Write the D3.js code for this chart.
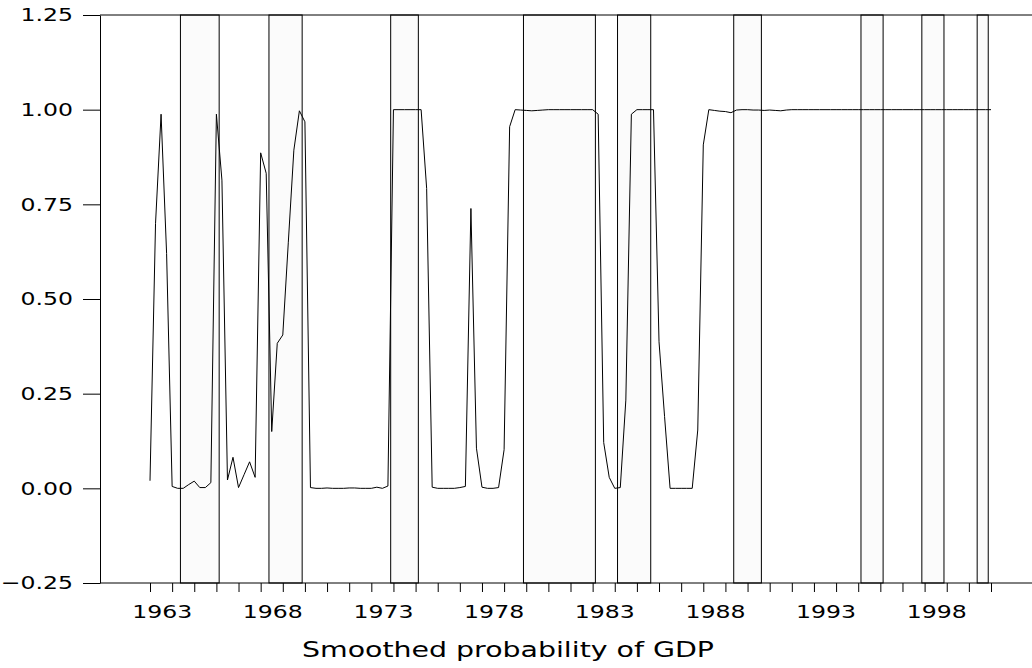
<!DOCTYPE html>
<html><head><meta charset="utf-8">
<script src="https://cdn.jsdelivr.net/npm/d3@7"></script>
<style>
body{margin:0;background:#fff}
svg{display:block}
text{font-family:"DejaVu Sans",sans-serif;fill:#000}
</style>
</head><body>
<svg id="c" width="1032" height="668"></svg>
<script>
// ---------- data ----------
const startYear = 1963; // first observation 1963Q1, quarterly
const probs = [
  0.02, 0.70, 0.988, 0.62, 0.005, 0.0, 0.0, 0.01, 0.019, 0.002,
  0.002, 0.015, 0.988, 0.814, 0.022, 0.082, 0.002, 0.036, 0.07, 0.029,
  0.886, 0.832, 0.15, 0.383, 0.405, 0.65, 0.893, 0.997, 0.968, 0.002,
  0.0, 0.0, 0.001, 0.0, 0.0, 0.0, 0.001, 0.001, 0.0, 0.0,
  0.0, 0.003, 0.0, 0.006, 1.0, 1.0, 1.0, 1.0, 1.0, 1.0,
  0.792, 0.003, 0.0, 0.0, 0.0, 0.0, 0.002, 0.005, 0.739, 0.106,
  0.003, 0.0, 0.0, 0.002, 0.102, 0.955, 1.0, 0.999, 0.998, 0.997,
  0.998, 0.999, 1.0, 1.0, 1.0, 1.0, 1.0, 1.0, 1.0, 1.0,
  1.0, 0.988, 0.121, 0.029, 0.0, 0.002, 0.233, 0.988, 1.0, 1.0,
  1.0, 1.0, 0.387, 0.19, 0.0, 0.0, 0.0, 0.0, 0.0, 0.154,
  0.907, 1.0, 0.998, 0.996, 0.995, 0.992, 0.999, 1.0, 1.0, 0.999,
  0.999, 0.998, 0.999, 0.998, 0.997, 0.999, 1.0, 1.0, 1.0, 1.0,
  1.0, 1.0, 1.0, 1.0, 1.0, 1.0, 1.0, 1.0, 1.0, 1.0,
  1.0, 1.0, 1.0, 1.0, 1.0, 1.0, 1.0, 1.0, 1.0, 1.0,
  1.0, 1.0, 1.0, 1.0, 1.0, 1.0, 1.0, 1.0, 1.0, 1.0,
  1.0, 1.0, 1.0
];
const recessions = [
  ["1964Q3", "1966Q1"],
  ["1968Q3", "1969Q4"],
  ["1974Q1", "1975Q1"],
  ["1980Q1", "1983Q1"],
  ["1984Q2", "1985Q3"],
  ["1989Q3", "1990Q3"],
  ["1995Q2", "1996Q1"],
  ["1998Q1", "1998Q4"],
  ["2000Q3", "2000Q4"]
];
const yTicks = [-0.25, 0.00, 0.25, 0.50, 0.75, 1.00, 1.25];
const xTickYears = [1963,1964,1965,1966,1967,1968,1969,1970,1971,1972,1973,1974,1975,1976,1977,1978,1979,1980,1981,1982,1983,1984,1985,1986,1987,1988,1989,1990,1991,1992,1993,1994,1995,1996,1997,1998,1999,2000,2001];
const xLabelYears = [1963, 1968, 1973, 1978, 1983, 1988, 1993, 1998];
const xTitle = "Smoothed probability of GDP";

// ---------- layout ----------
const W = 1032, H = 668;
const plotLeft = 100, plotTop = 15, plotBottom = 583;
const x = d3.scaleLinear().domain([1963, 2001]).range([150, 991]);
const y = d3.scaleLinear().domain([-0.25, 1.25]).range([plotBottom, plotTop]);
const q2t = s => +s.slice(0, 4) + (+s.slice(5) - 1) / 4;
const half = 0.125;
const stretch = 1.31;

const svg = d3.select("#c");

// shaded periods
svg.append("g").selectAll("rect").data(recessions).join("rect")
  .attr("x", d => x(q2t(d[0]) - half))
  .attr("width", d => x(q2t(d[1]) + half) - x(q2t(d[0]) - half))
  .attr("y", y(1.25))
  .attr("height", y(-0.25) - y(1.25))
  .attr("fill", "#fbfbfb")
  .attr("stroke", "#000")
  .attr("stroke-width", 1);

// frame lines (top & bottom)
svg.append("line").attr("x1", plotLeft).attr("x2", W).attr("y1", y(1.25)).attr("y2", y(1.25))
  .attr("stroke", "#000").attr("stroke-width", 1);
svg.append("line").attr("x1", plotLeft).attr("x2", W).attr("y1", y(-0.25)).attr("y2", y(-0.25))
  .attr("stroke", "#000").attr("stroke-width", 1);

// y axis
const yAxis = svg.append("g").attr("transform", `translate(${plotLeft},0)`)
  .call(d3.axisLeft(y).tickValues(yTicks).tickFormat(d3.format(".2f"))
    .tickSizeInner(17).tickSizeOuter(0).tickPadding(10));
yAxis.selectAll("path,line").attr("stroke", "#000");
yAxis.selectAll("text").attr("font-size", 18).attr("font-family", "DejaVu Sans").attr("fill", "#000")
  .each(function(){ const L = this.getComputedTextLength(); d3.select(this).attr("textLength", L*stretch).attr("lengthAdjust","spacingAndGlyphs"); });

// x ticks
const xAxis = svg.append("g").attr("transform", `translate(0,${plotBottom})`)
  .call(d3.axisBottom(x).tickValues(xTickYears).tickFormat("").tickSizeInner(9).tickSizeOuter(0));
xAxis.select(".domain").remove();
xAxis.selectAll("line").attr("stroke", "#000");

// x labels (centered within the year)
svg.append("g").selectAll("text").data(xLabelYears).join("text")
  .attr("x", d => x(d + 0.55))
  .attr("y", 618)
  .attr("text-anchor", "middle")
  .attr("font-size", 18)
  .text(d => d)
  .each(function(){ const L = this.getComputedTextLength(); d3.select(this).attr("textLength", L*stretch).attr("lengthAdjust","spacingAndGlyphs"); });

// x title
svg.append("text").attr("x", 508).attr("y", 657).attr("text-anchor", "middle")
  .attr("font-size", 21).attr("textLength", 412).attr("lengthAdjust", "spacingAndGlyphs")
  .text(xTitle);

// probability line
const line = d3.line().x((d, i) => x(startYear + i / 4)).y(d => y(d));
svg.append("path").datum(probs).attr("d", line)
  .attr("fill", "none").attr("stroke", "#000").attr("stroke-width", 1);
</script>
</body></html>
